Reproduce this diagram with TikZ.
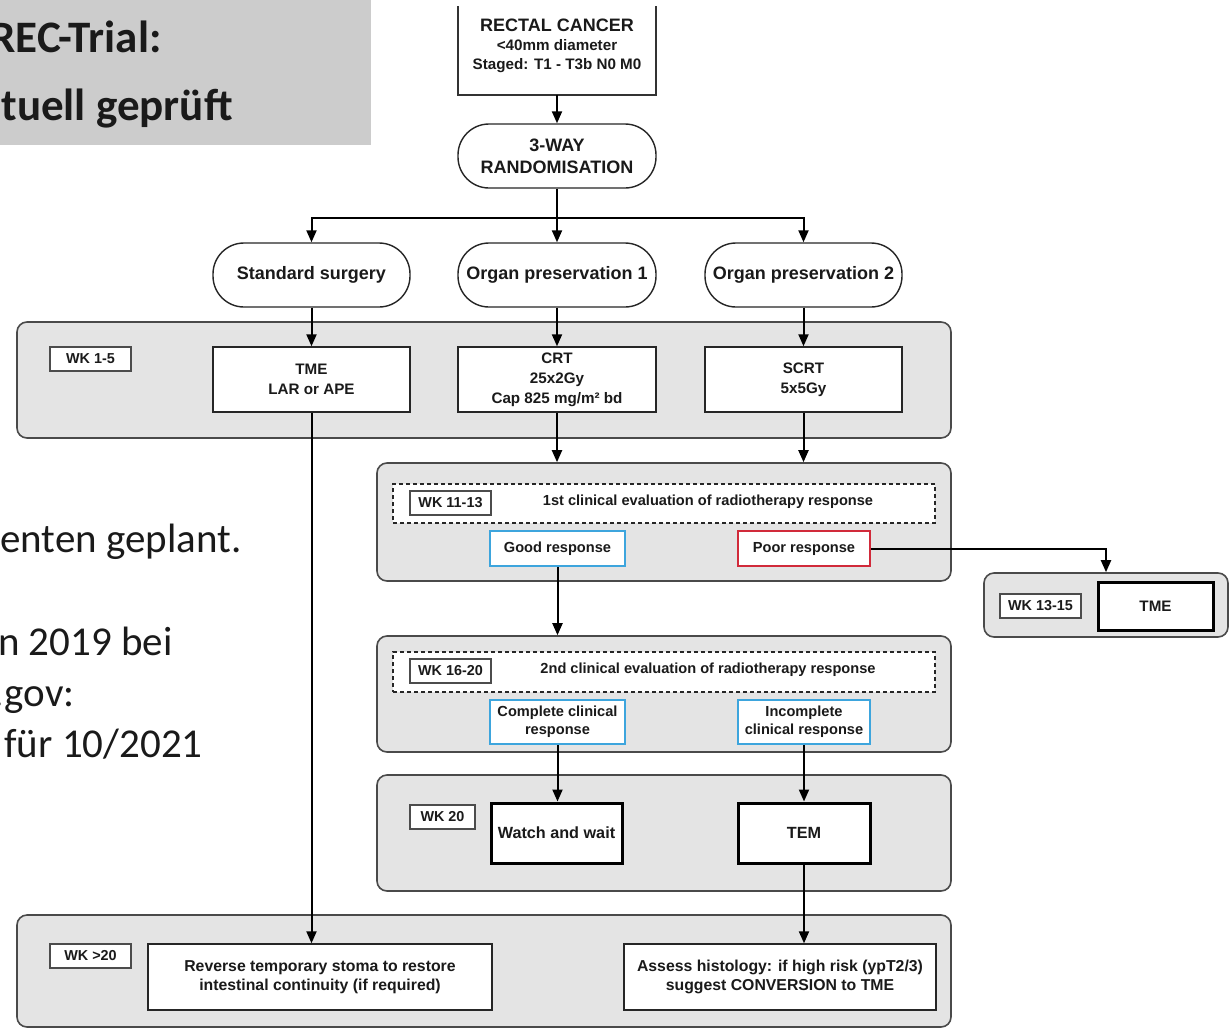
\documentclass[tikz,border=0pt]{standalone}
\usepackage{fontspec}
\setmainfont{Liberation Sans}
\newfontfamily\calfont{Carlito}
\usetikzlibrary{arrows.meta}
\definecolor{hdrgray}{HTML}{CCCCCC}
\definecolor{panelgray}{HTML}{E4E4E4}
\definecolor{panelborder}{HTML}{4A4A4A}
\definecolor{txt}{HTML}{1A1A1A}
\definecolor{blueb}{HTML}{3DA5DD}
\definecolor{redb}{HTML}{D12A3A}
\begin{document}
\begin{tikzpicture}[x=0.5pt,y=-0.5pt,
  every node/.style={text=txt},
  sz/.style 2 args={minimum width=#1*0.5pt, minimum height=#2*0.5pt},
  conn/.style={line width=1pt, draw=black, -{Triangle[length=6pt,width=5pt]}},
  panel/.style={draw=panelborder, fill=panelgray, line width=0.8pt, rounded corners=5pt, inner sep=0pt},
  box/.style={draw=black!85, fill=white, line width=0.7pt, inner sep=1pt, align=center},
  thickbox/.style={box, line width=1.5pt, draw=black},
  stadium/.style={box, rounded corners=15.5pt},
  wkbox/.style={draw=black!70, fill=white, line width=0.7pt, inner sep=1pt, font=\fontsize{7.2}{9}\selectfont\bfseries},
  dashbox/.style={draw=black!85, fill=white, dashed, dash pattern=on 2pt off 1.5pt, line width=0.6pt, inner sep=0pt},
  fbig/.style={font=\fontsize{9}{11}\selectfont\bfseries},
  fmid/.style={font=\fontsize{7.6}{10}\selectfont\bfseries},
  fsml/.style={font=\fontsize{7.3}{9}\selectfont\bfseries},
  bluebox/.style={box, draw=blueb, line width=1.1pt, fsml},
  redbox/.style={box, draw=redb, line width=1.1pt, fsml},
  lefttxt/.style={anchor=base east, inner sep=0pt, font=\calfont\fontsize{20.5}{25}\selectfont},
  hdrtxt/.style={anchor=base east, inner sep=0pt, font=\calfont\bfseries\fontsize{22.5}{27}\selectfont}
]
\useasboundingbox (0,0) rectangle (1232,1029);
\begin{scope}
\clip (0,0) rectangle (1232,1029);

% header box and side texts
\fill[hdrgray] (0,0) rectangle (371,145);
\node[hdrtxt] (h1) at (162,52) {REC-Trial:};
\node[hdrtxt] (h2) at (233,120) {tuell geprüft};
\node[lefttxt] (l1) at (242,552) {enten geplant.};
\node[lefttxt] (l2) at (173,655) {n 2019 bei};
\node[lefttxt] (l3) at (75,706) {.gov:};
\node[lefttxt] (l4) at (203,757) {für 10/2021};

% top part
\draw[line width=0.8pt, draw=black!80] (458,6) -- (458,95) -- (656,95) -- (656,6);
\coordinate (rcb) at (557,95);
\node[fbig, align=center, inner sep=0pt] (rc) at (557,46) {RECTAL CANCER\\[-1.5pt]{\fontsize{7.6}{10}\selectfont\bfseries \textless40mm diameter}\\[-1.5pt]{\fontsize{7.6}{10}\selectfont\bfseries Staged: T1 - T3b N0 M0}};
\node[stadium, fbig, sz={198}{64}] (rand) at (557,156) {3-WAY\\RANDOMISATION};
\node[stadium, fbig, sz={197}{64}] (std) at (311.5,275) {Standard surgery};
\node[stadium, fbig, sz={198}{64}] (op1) at (557,275) {Organ preservation 1};
\node[stadium, fbig, sz={197}{64}] (op2) at (803.5,275) {Organ preservation 2};
\coordinate (bar) at (557,218);
\draw[conn] (rcb) -- (rand.north);
\draw[conn] (rand.south) -- (op1.north);
\draw[conn] (bar) -| (std.north);
\draw[conn] (bar) -| (op2.north);

% panel 1
\node[panel, sz={934}{116}] (p1) at (484,380) {};
\node[wkbox, sz={81}{24}] (wk1) at (90.5,359) {WK 1-5};
\node[box, fmid, sz={197}{65}] (tme) at (311.5,379.5) {TME\\LAR or APE};
\node[box, fmid, sz={198}{65}] (crt) at (557,379.5) {CRT\\25x2Gy\\Cap 825 mg/m² bd};
\node[box, fmid, sz={197}{65}] (scrt) at (803.5,379.5) {SCRT\\5x5Gy};
\draw[conn] (std.south) -- (tme.north);
\draw[conn] (op1.south) -- (crt.north);
\draw[conn] (op2.south) -- (scrt.north);

% panel 2
\node[panel, sz={574}{118}] (p2) at (664,522) {};
\node[dashbox, sz={542}{39}] (d1) at (664,503.5) {};
\node[wkbox, sz={81}{24}] (wk2) at (450.5,503) {WK 11-13};
\node[fsml, inner sep=0pt] (ev1) at (708,502) {1st clinical evaluation of radiotherapy response};
\node[bluebox, sz={135}{35}] (good) at (557.5,548.5) {Good response};
\node[redbox, sz={132}{35}] (poor) at (804,548.5) {Poor response};
\draw[conn] (crt.south) -- (crt.south |- p2.north);
\draw[conn] (scrt.south) -- (scrt.south |- p2.north);

% right panel
\node[panel, sz={244}{64}] (p6) at (1106,605) {};
\node[wkbox, sz={81}{24}] (wk3) at (1040.5,606) {WK 13-15};
\node[thickbox, fmid, sz={115}{48}] (tme2) at (1155.5,606) {TME};
\draw[conn] (poor.east) -| (p6.north);

% panel 3
\node[panel, sz={574}{116}] (p3) at (664,694) {};
\node[dashbox, sz={542}{40}] (d2) at (664,672) {};
\node[wkbox, sz={81}{24}] (wk4) at (450.5,671) {WK 16-20};
\node[fsml, inner sep=0pt] (ev2) at (708,670) {2nd clinical evaluation of radiotherapy response};
\node[bluebox, sz={135}{44}, font=\fontsize{7.3}{9}\selectfont\bfseries] (ccr) at (557.5,722) {Complete clinical\\response};
\node[bluebox, sz={132}{44}, font=\fontsize{7.3}{9}\selectfont\bfseries] (icr) at (804,722) {Incomplete\\clinical response};
\draw[conn] (good.south) -- (good.south |- p3.north);

% panel 4
\node[panel, sz={574}{116}] (p4) at (664,833) {};
\node[wkbox, sz={65}{24}] (wk5) at (442.5,817) {WK 20};
\node[thickbox, font=\fontsize{8.1}{10}\selectfont\bfseries, sz={131}{60}] (ww) at (556.5,833) {Watch and wait};
\node[thickbox, font=\fontsize{8.1}{10}\selectfont\bfseries, sz={132}{60}] (tem) at (804,833) {TEM};
\draw[conn] (ccr.south) -- (ccr.south |- ww.north);
\draw[conn] (icr.south) -- (icr.south |- tem.north);

% panel 5
\node[panel, sz={934}{112}] (p5) at (484,971) {};
\node[wkbox, sz={81}{24}] (wk6) at (90.5,956) {WK >20};
\node[box, font=\fontsize{7.9}{9.6}\selectfont\bfseries, sz={344}{66}] (rev) at (320,977) {Reverse temporary stoma to restore\\intestinal continuity (if required)};
\node[box, font=\fontsize{7.9}{9.6}\selectfont\bfseries, sz={312}{66}] (ass) at (780,977) {Assess histology: if high risk (ypT2/3)\\suggest CONVERSION to TME};
\draw[conn] (tme.south) -- (tme.south |- rev.north);
\draw[conn] (tem.south) -- (tem.south |- ass.north);
\end{scope}
\end{tikzpicture}
\end{document}
